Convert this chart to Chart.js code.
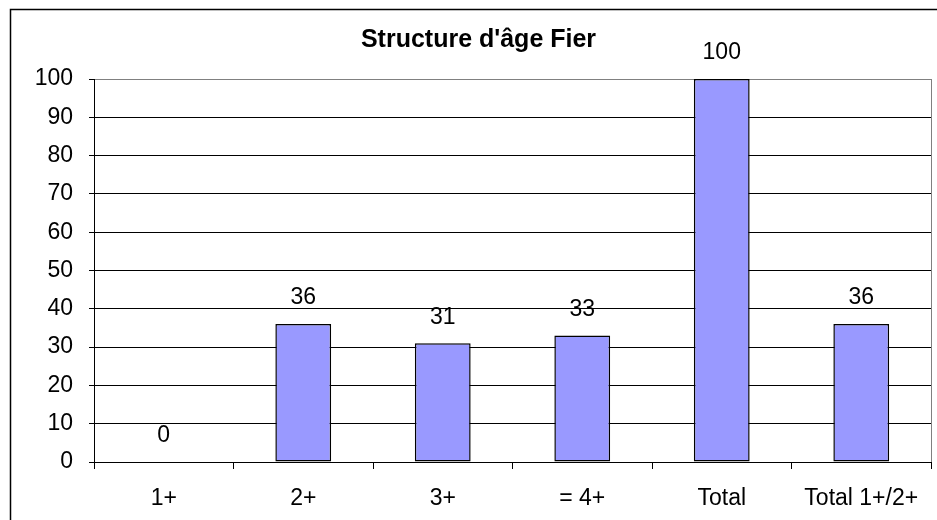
<!DOCTYPE html>
<html>
<head>
<meta charset="utf-8">
<script src="https://cdn.jsdelivr.net/npm/chart.js@4"></script>
<style>
  html, body { margin: 0; padding: 0; background: #fff; }
  #wrap { width: 937px; height: 520px; }
</style>
</head>
<body>
<div id="wrap"><canvas id="ageChart"></canvas></div>
<script>
// données de la structure d'âge
var categories = ['1+', '2+', '3+', '= 4+', 'Total', 'Total 1+/2+'];
var effectifs = [0, 36, 31, 33, 100, 36];
var yTicks = [0, 10, 20, 30, 40, 50, 60, 70, 80, 90, 100];
var titre = "Structure d'âge Fier";

var police = 'Liberation Sans, Arial, sans-serif';

// cadre extérieur + bordure de la zone de tracé + titre
var cadrePlugin = {
    id: 'cadre',
    beforeDraw: function (chart) {
        var ctx = chart.ctx;
        ctx.save();
        ctx.fillStyle = '#ffffff';
        ctx.fillRect(0, 0, chart.width, chart.height);
        ctx.strokeStyle = '#000000';
        ctx.lineWidth = 1.5;
        ctx.strokeRect(10.5, 9.5, chart.width, chart.height);
        var a = chart.chartArea;
        ctx.strokeStyle = '#808080';
        ctx.lineWidth = 1;
        ctx.strokeRect(a.left + 0.5, a.top + 0.5, a.right - a.left, a.bottom - a.top);
        // titre (légèrement décalé à droite comme dans Excel)
        ctx.fillStyle = '#000000';
        ctx.font = 'bold 25px ' + police;
        ctx.textAlign = 'center';
        ctx.textBaseline = 'middle';
        ctx.fillText(titre, (a.left + a.right) / 2 - 34, 40);
        ctx.restore();
    }
};

// étiquettes de valeurs au-dessus des barres
var etiquettesPlugin = {
    id: 'etiquettes',
    afterDatasetsDraw: function (chart) {
        var ctx = chart.ctx;
        var meta = chart.getDatasetMeta(0);
        ctx.save();
        ctx.fillStyle = '#000000';
        ctx.font = '23px ' + police;
        ctx.textAlign = 'center';
        ctx.textBaseline = 'middle';
        meta.data.forEach(function (bar, i) {
            ctx.fillText(String(effectifs[i]), bar.x, bar.y - 26);
        });
        ctx.restore();
    }
};

var ctx = document.getElementById('ageChart').getContext('2d');
new Chart(ctx, {
    type: 'bar',
    data: {
        labels: categories,
        datasets: [{
            data: effectifs,
            backgroundColor: '#9999ff',
            borderColor: '#000000',
            borderWidth: 1.5,
            borderSkipped: false,
            categoryPercentage: 1.0,
            barPercentage: 0.4
        }]
    },
    options: {
        responsive: true,
        maintainAspectRatio: false,
        animation: false,
        layout: {
            padding: { left: 0, right: 6, top: 79, bottom: 0 }
        },
        plugins: {
            legend: { display: false },
            tooltip: { enabled: false },
            title: { display: false }
        },
        scales: {
            x: {
                grid: {
                    offset: true,
                    drawOnChartArea: false,
                    drawTicks: true,
                    tickLength: 7,
                    color: '#000000'
                },
                border: { color: '#000000', width: 1 },
                ticks: {
                    color: '#000000',
                    font: { family: police, size: 23 },
                    padding: 16,
                    maxRotation: 0,
                    autoSkip: false
                },
                afterFit: function (scale) { scale.height = 58; }
            },
            y: {
                min: 0,
                max: 100,
                afterBuildTicks: function (scale) {
                    scale.ticks = yTicks.map(function (v) { return { value: v }; });
                },
                grid: {
                    color: function (c) { return c.tick && c.tick.value === 100 ? '#808080' : '#000000'; },
                    tickColor: '#000000',
                    tickLength: 5
                },
                border: { color: '#000000', width: 1 },
                ticks: {
                    color: '#000000',
                    font: { family: police, size: 23 },
                    padding: 16
                },
                afterFit: function (scale) { scale.width = 94; }
            }
        }
    },
    plugins: [cadrePlugin, etiquettesPlugin]
});
</script>
</body>
</html>
